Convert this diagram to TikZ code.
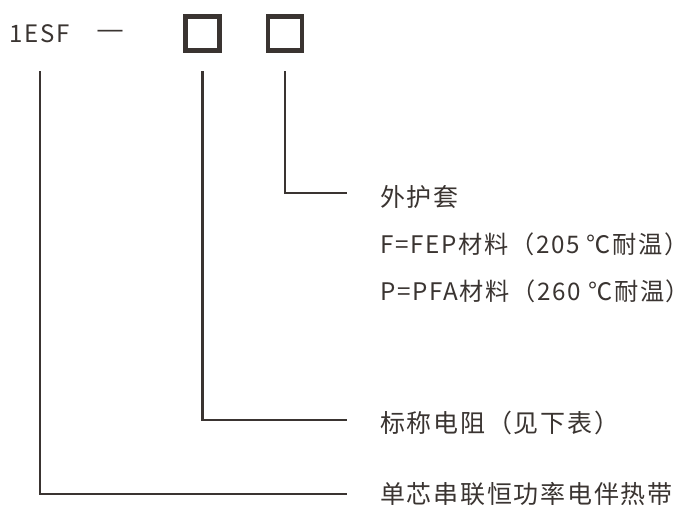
\documentclass[tikz,border=0pt]{standalone}
\usepackage{fontspec}
\setmainfont{Noto Sans CJK SC}[LetterSpace=7]
\newfontfamily\dashfont{Liberation Sans}
\definecolor{ink}{HTML}{3A3431}
\begin{document}
\begin{tikzpicture}[x=1pt,y=-1pt,
  lbl/.style={anchor=west,inner sep=0pt,text=ink,font=\fontsize{25}{28}\selectfont},
  lbls/.style={lbl,font=\fontsize{24.2}{28}\selectfont},
  code/.style={anchor=center,inner sep=0pt,text=ink,font=\fontsize{24}{26}\selectfont},
  box/.style={draw=ink,line width=4.5pt,minimum size=34pt,inner sep=0pt},
  conn/.style={draw=ink,line width=2.6pt}]
\useasboundingbox (0,0) rectangle (689,507);
\node[code] (t1) at (40,34) {1ESF};
\node[code,font=\dashfont\fontsize{25}{26}\selectfont] (dash) at (110,34) {—};
\node[box] (s1) at (202.5,33.5) {};
\node[box] (s2) at (285,33.5) {};
\node[lbl] (l1) at (380,197) {外护套};
\node[lbls] (l2) at (380,244) {F=FEP材料（205 ℃耐温）};
\node[lbls] (l3) at (380,291) {P=PFA材料（260 ℃耐温）};
\node[lbl] (l4) at (380,423) {标称电阻（见下表）};
\node[lbl] (l5) at (380,494) {单芯串联恒功率电伴热带};
\coordinate (a1) at (40,71);
\coordinate (a2) at (202.5,71);
\coordinate (a3) at (285,71);
\coordinate (e1) at (347,193);
\coordinate (e2) at (347,420);
\coordinate (e3) at (347,494);
\draw[conn] (a3) |- (e1);
\draw[conn] (a2) |- (e2);
\draw[conn] (a1) |- (e3);
\end{tikzpicture}
\end{document}
